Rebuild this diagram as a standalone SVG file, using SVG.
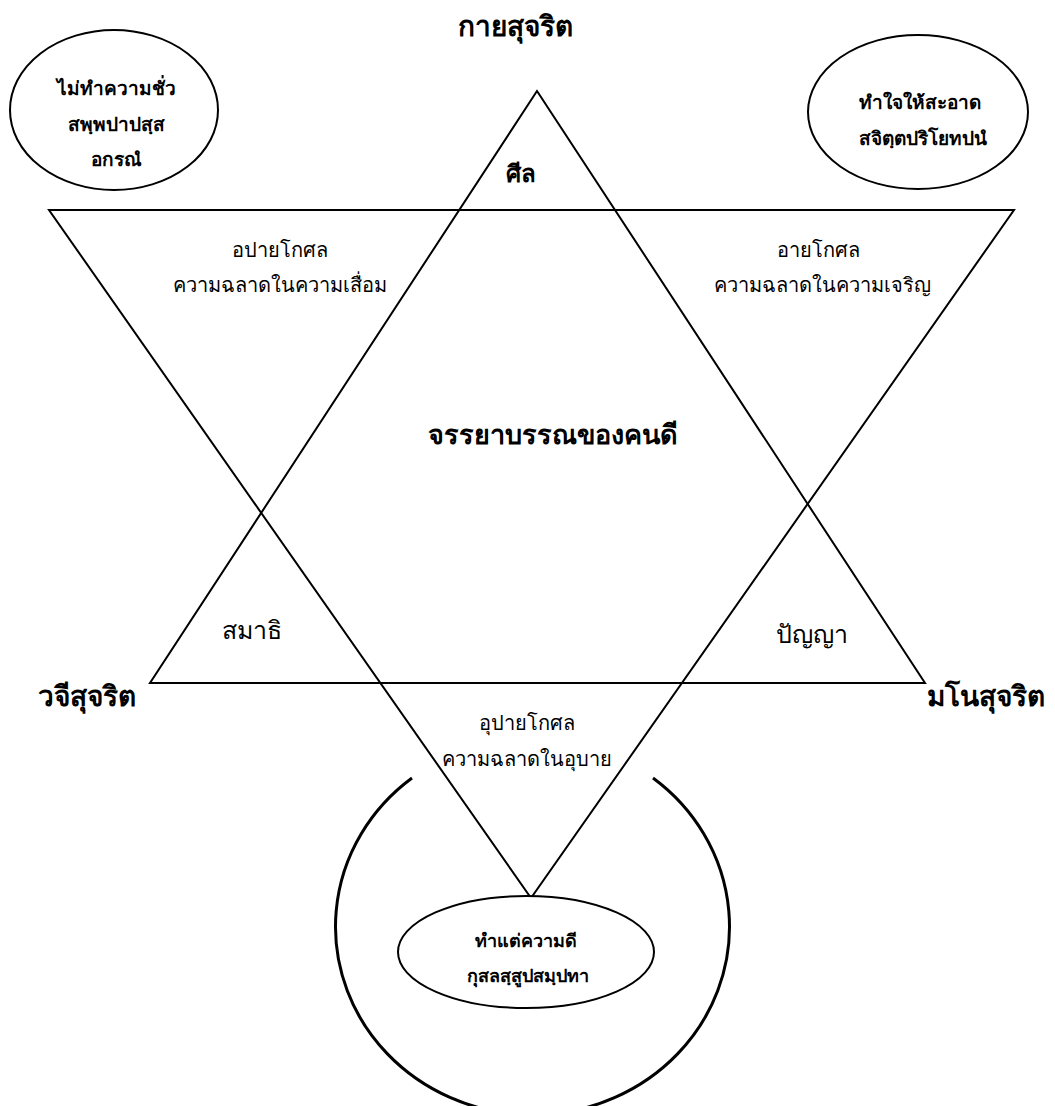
<svg xmlns="http://www.w3.org/2000/svg" width="1055" height="1106" viewBox="0 0 1055 1106">
<style>
.t{font-family:"Noto Sans","Liberation Sans",sans-serif;fill:#000;text-anchor:middle}
.b{font-weight:bold}
.s{text-anchor:start}
.ln{fill:none;stroke:#000;stroke-width:2;stroke-linejoin:miter}
.el{fill:#fff;stroke:#000;stroke-width:2}
</style>
<rect width="1055" height="1106" fill="#fff"/>
<g id="connectors">
<path class="ln" d="M 412 778 A 197 188 0 1 0 653 778" style="stroke-width:3"/>
<polygon id="tri-up" class="ln" points="537,91 925,683 150,683"/>
<polygon id="tri-down" class="ln" points="49,210 1014,210 531,898"/>
</g>
<g id="title-top"><text class="t b" x="515" y="36" font-size="28">กายสุจริต</text></g>
<g id="node-tl">
<ellipse class="el" cx="114" cy="110" rx="104" ry="80"/>
<text class="t b" x="116" y="95" font-size="19">ไม่ทำความชั่ว</text>
<text class="t b" x="116" y="131" font-size="19">สพฺพปาปสฺส</text>
<text class="t b" x="116" y="166" font-size="19">อกรณํ</text>
</g>
<g id="node-tr">
<ellipse class="el" cx="918" cy="112" rx="110" ry="77"/>
<text class="t b s" x="859" y="109" font-size="19">ทำใจให้สะอาด</text>
<text class="t b s" x="859" y="145" font-size="19">สจิตฺตปริโยทปนํ</text>
</g>
<g id="label-sila"><text class="t b" x="521" y="182" font-size="24">ศีล</text></g>
<g id="label-apaya">
<text class="t" x="280" y="257" font-size="20">อปายโกศล</text>
<text class="t" x="280" y="292" font-size="20">ความฉลาดในความเสื่อม</text>
</g>
<g id="label-aya">
<text class="t" x="818" y="257" font-size="20">อายโกศล</text>
<text class="t" x="822" y="292" font-size="20">ความฉลาดในความเจริญ</text>
</g>
<g id="label-center"><text class="t b" x="553" y="444" font-size="27">จรรยาบรรณของคนดี</text></g>
<g id="label-samadhi"><text class="t" x="252" y="639" font-size="25">สมาธิ</text></g>
<g id="label-panya"><text class="t" x="812" y="643" font-size="25">ปัญญา</text></g>
<g id="label-vaci"><text class="t b" x="87" y="706" font-size="28">วจีสุจริต</text></g>
<g id="label-mano"><text class="t b" x="986" y="706" font-size="28">มโนสุจริต</text></g>
<g id="label-upaya">
<text class="t" x="527" y="730" font-size="20">อุปายโกศล</text>
<text class="t" x="527" y="766" font-size="20">ความฉลาดในอุบาย</text>
</g>
<g id="node-bottom">
<ellipse class="el" cx="526" cy="952" rx="128" ry="56"/>
<text class="t b" x="526" y="947" font-size="18">ทำแต่ความดี</text>
<text class="t b" x="528" y="982" font-size="18">กุสลสฺสูปสมฺปทา</text>
</g>
</svg>
